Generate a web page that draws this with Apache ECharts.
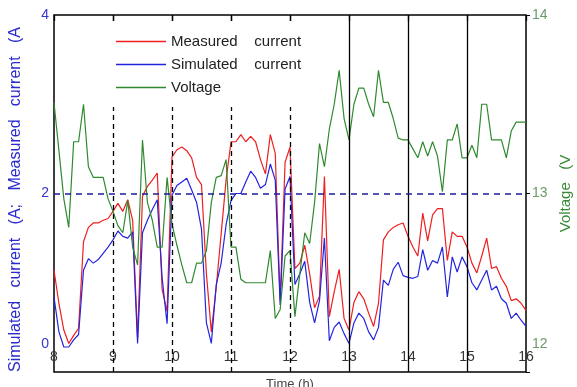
<!DOCTYPE html>
<html><head><meta charset="utf-8">
<script src="https://cdn.jsdelivr.net/npm/echarts@6/dist/echarts.min.js"></script>
<style>html,body{margin:0;padding:0;background:#fff}#c{width:577px;height:387px}</style>
</head><body><div id="c"></div>
<script>
const times = [
'8:00','8:05','8:10','8:15','8:20','8:25','8:30','8:35','8:40','8:45','8:50','8:55',
'9:00','9:05','9:10','9:15','9:20','9:25','9:30','9:35','9:40','9:45','9:50','9:55',
'10:00','10:05','10:10','10:15','10:20','10:25','10:30','10:35','10:40','10:45','10:50','10:55',
'11:00','11:05','11:10','11:15','11:20','11:25','11:30','11:35','11:40','11:45','11:50','11:55',
'12:00','12:05','12:10','12:15','12:20','12:25','12:30','12:35','12:40','12:45','12:50','12:55',
'13:00','13:05','13:10','13:15','13:20','13:25','13:30','13:35','13:40','13:45','13:50','13:55',
'14:00','14:05','14:10','14:15','14:20','14:25','14:30','14:35','14:40','14:45','14:50','14:55',
'15:00','15:05','15:10','15:15','15:20','15:25','15:30','15:35','15:40','15:45','15:50','15:55',
'16:00'];
const measuredCurrent = [
1.14,0.77,0.47,0.32,0.41,0.49,1.46,1.62,1.67,1.67,1.70,1.72,
1.80,1.89,1.80,1.93,1.70,0.38,1.97,2.08,2.15,2.23,0.92,0.68,
2.41,2.49,2.52,2.48,2.40,2.18,2.10,1.10,0.45,0.95,1.55,2.15,
2.58,2.58,2.66,2.58,2.64,2.58,2.38,2.22,2.66,2.45,0.80,2.35,
2.52,1.16,1.22,1.42,1.10,0.72,0.85,2.19,0.62,0.90,1.15,0.60,
0.47,0.78,0.90,0.82,0.66,0.51,0.77,1.48,1.57,1.62,1.65,1.67,
1.52,1.40,1.30,1.78,1.47,1.76,1.83,1.83,1.25,1.57,1.52,1.52,
1.40,1.22,1.11,1.30,1.50,1.16,1.18,1.05,0.96,0.80,0.82,0.77,0.69];
const simulatedCurrent = [
0.84,0.45,0.28,0.28,0.36,0.42,1.14,1.27,1.22,1.26,1.33,1.40,
1.48,1.58,1.52,1.50,1.57,0.32,1.56,1.70,1.82,1.93,1.05,0.54,
1.98,2.09,2.13,2.17,2.04,1.90,1.60,0.55,0.32,0.98,1.22,1.65,
1.92,2.00,2.00,2.13,2.25,2.18,2.06,2.10,2.33,2.15,0.75,2.05,
2.19,0.98,1.10,1.24,0.78,0.55,0.80,1.50,0.35,0.50,0.56,0.43,
0.32,0.55,0.66,0.60,0.45,0.36,0.50,1.03,0.97,1.15,1.23,1.08,
1.06,1.05,1.07,1.37,1.14,1.25,1.22,1.40,0.84,1.29,1.12,1.29,
1.18,1.00,0.92,1.03,1.14,0.92,0.96,0.82,0.77,0.60,0.66,0.58,0.51];
const voltage = [
13.51,13.24,12.97,12.81,13.29,13.29,13.50,13.15,13.09,13.09,13.09,12.97,
12.90,12.82,12.78,12.96,12.70,12.60,13.30,12.95,12.85,12.70,12.70,13.09,
12.83,12.71,12.60,12.50,12.50,12.61,12.61,12.68,12.95,13.09,13.10,13.19,
12.70,12.70,12.52,12.50,12.50,12.50,12.50,12.50,12.68,12.30,12.35,12.65,
12.68,12.31,12.55,12.78,12.72,12.95,13.28,13.15,13.36,13.50,13.69,13.42,
13.30,13.50,13.59,13.59,13.50,13.43,13.69,13.51,13.51,13.42,13.31,13.30,
13.30,13.25,13.20,13.29,13.21,13.29,13.21,13.01,13.30,13.30,13.39,13.20,
13.20,13.27,13.20,13.50,13.50,13.30,13.30,13.30,13.20,13.35,13.40,13.40,13.40];
const dashedHours = ['9:00','10:00','11:00','12:00'];
const solidHours = ['13:00','14:00','15:00'];
const refCurrent = 2;
const seriesNames = ['Measured    current','Simulated    current','Voltage'];
const colors = ['#f01e1e','#2424e0','#2f8a2f'];

const FONT = 'Liberation Sans';
const chart = echarts.init(document.getElementById('c'), null, {renderer:'canvas'});
const vLines = dashedHours.map(h => ({xAxis: h, lineStyle:{type:[5,4], color:'#000', width:1.3}}))
  .concat(solidHours.map(h => ({xAxis: h, lineStyle:{type:'solid', color:'#000', width:1.3}})))
  .concat([{yAxis: refCurrent, lineStyle:{type:[6,5], color:'#1c1c9c', width:1.5}}]);

chart.setOption({
  animation:false,
  backgroundColor:'#fff',
  textStyle:{fontFamily:FONT},
  grid:{left:54, right:51, top:15, bottom:15, containLabel:false, outerBoundsMode:'none',
        show:true, borderColor:'#000', borderWidth:1.5},
  graphic:[{type:'rect', left:104, top:24, z:10, silent:true,
            shape:{width:208, height:83}, style:{fill:'#fff'}}],
  legend:{orient:'vertical', left:108, top:28, padding:[6,12,14,8], itemGap:8, z:20,
          icon:'rect', itemWidth:50, itemHeight:1.6,
          textStyle:{fontSize:15, color:'#222', fontFamily:FONT, lineHeight:14}, data:seriesNames},
  xAxis:[{
    type:'category', data:times, boundaryGap:false, position:'bottom',
    name:'Time (h)', nameLocation:'middle', nameGap:1,
    nameTextStyle:{fontSize:13, color:'#444', fontFamily:FONT},
    axisLine:{show:false}, axisTick:{show:false}, splitLine:{show:false},
    axisLabel:{inside:true, interval:11, margin:8, fontSize:14, color:'#333', fontFamily:FONT,
               formatter: v => v.split(':')[0]}
  },{
    type:'category', data:times, boundaryGap:false, position:'top',
    axisLine:{show:false}, axisLabel:{show:false}, splitLine:{show:false},
    axisTick:{show:true, inside:true, length:6, interval:11, lineStyle:{color:'#000', width:1.3}}
  }],
  yAxis:[{
    type:'value', min:0, max:4, interval:2, position:'left',
    name:'Simulated   current   (A;   Measured   current   (A', nameLocation:'middle', nameGap:30,
    nameTextStyle:{fontSize:16, color:'#2a2ad0', fontFamily:FONT, padding:[0,0,0,-12]},
    axisLine:{show:false}, axisTick:{show:false}, splitLine:{show:false},
    axisLabel:{margin:5, fontSize:14, color:'#3535d0', lineHeight:14, fontFamily:FONT,
               formatter: v => v === 0 ? '0\n \n \n \n ' : String(v)}
  },{
    type:'value', min:12, max:14, interval:1, position:'right',
    name:'Voltage   (V', nameLocation:'middle', nameGap:16,
    nameTextStyle:{fontSize:15, color:'#3a8a3a', fontFamily:FONT},
    axisLine:{show:false}, splitLine:{show:false},
    axisTick:{show:true, length:4, lineStyle:{color:'#000'}},
    axisLabel:{margin:6, fontSize:14, color:'#6a9a6a', lineHeight:14, fontFamily:FONT,
               formatter: v => v === 12 ? '12\n \n \n \n ' : String(v)}
  }],
  series:[
    {name:seriesNames[0], type:'line', data:measuredCurrent, yAxisIndex:0, symbol:'none',
     lineStyle:{color:colors[0], width:1.2}, itemStyle:{color:colors[0]},
     markLine:{silent:true, symbol:'none', label:{show:false}, emphasis:{disabled:true}, data:vLines}},
    {name:seriesNames[1], type:'line', data:simulatedCurrent, yAxisIndex:0, symbol:'none',
     lineStyle:{color:colors[1], width:1.2}, itemStyle:{color:colors[1]}},
    {name:seriesNames[2], type:'line', data:voltage, yAxisIndex:1, symbol:'none',
     lineStyle:{color:colors[2], width:1.2}, itemStyle:{color:colors[2]}}
  ]
});
</script></body></html>
